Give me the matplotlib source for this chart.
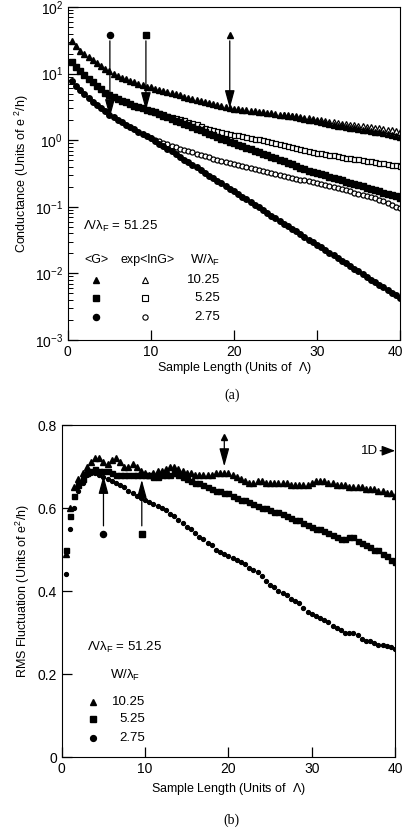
import numpy as np
import matplotlib
matplotlib.use("Agg")
import matplotlib.pyplot as plt
import matplotlib.transforms as mtransforms
from matplotlib.ticker import LogLocator, FixedLocator, NullFormatter

plt.rcParams['font.family'] = ['Liberation Sans', 'DejaVu Sans']
plt.rcParams['mathtext.fontset'] = 'custom'
plt.rcParams['mathtext.rm'] = 'Liberation Sans'
plt.rcParams['mathtext.it'] = 'Liberation Sans'
plt.rcParams['mathtext.sf'] = 'Liberation Sans'

# ---------------- data ----------------
L = np.arange(0.5, 40.01, 0.5)          # sample length grid (units of Lambda)

# (a) conductance, <G> (filled) and exp<lnG> (open)
g_tri = [31, 26, 22, 19.5, 17.5, 15.8, 14.3, 13, 11.8, 10.8, 10, 9.3, 8.7, 8.2, 7.8, 7.4,
         7.0, 6.7, 6.4, 6.2, 5.9, 5.7, 5.5, 5.3, 5.1, 4.9, 4.7, 4.5, 4.35, 4.2, 4.05, 3.9,
         3.75, 3.6, 3.48, 3.36, 3.25, 3.15, 3.05, 2.97, 2.92, 2.87, 2.82, 2.77, 2.72, 2.67,
         2.62, 2.58, 2.53, 2.48, 2.43, 2.38, 2.33, 2.28, 2.22, 2.16, 2.1, 2.04, 1.98, 1.92,
         1.86, 1.8, 1.75, 1.7, 1.65, 1.61, 1.57, 1.53, 1.5, 1.47, 1.44, 1.41, 1.38, 1.35,
         1.31, 1.27, 1.23, 1.19, 1.15, 1.12]
L_tri_open = np.arange(26, 40.01, 0.5)
g_tri_open = [2.42, 2.37, 2.33, 2.28, 2.23, 2.18, 2.13, 2.08, 2.03, 1.98, 1.94, 1.9, 1.86,
              1.82, 1.78, 1.75, 1.71, 1.68, 1.65, 1.62, 1.59, 1.56, 1.53, 1.5, 1.46, 1.43,
              1.4, 1.36, 1.33]

g_sq = [15, 12.5, 10.8, 9.5, 8.4, 7.4, 6.6, 5.9, 5.2, 4.7, 4.4, 4.1, 3.9, 3.7, 3.5, 3.3,
        3.15, 3.0, 2.88, 2.77, 2.62, 2.47, 2.34, 2.21, 2.09, 1.97, 1.87, 1.76, 1.67, 1.57,
        1.49, 1.41, 1.33, 1.26, 1.19, 1.12, 1.06, 1.0, 0.955, 0.905, 0.86, 0.815, 0.773,
        0.733, 0.695, 0.659, 0.625, 0.593, 0.562, 0.533, 0.506, 0.48, 0.455, 0.432, 0.41,
        0.388, 0.368, 0.35, 0.336, 0.322, 0.309, 0.296, 0.284, 0.272, 0.261, 0.25, 0.239,
        0.229, 0.22, 0.21, 0.202, 0.193, 0.185, 0.177, 0.17, 0.163, 0.156, 0.15, 0.144,
        0.137]
L_sq_open = np.arange(10, 40.01, 0.5)
g_sq_open = [2.77, 2.65, 2.54, 2.44, 2.34, 2.24, 2.15, 2.06, 1.98, 1.9, 1.82, 1.74, 1.62,
             1.55, 1.48, 1.42, 1.36, 1.31, 1.27, 1.24, 1.21, 1.18, 1.15, 1.12, 1.09, 1.06,
             1.03, 1.0, 0.97, 0.94, 0.91, 0.88, 0.85, 0.82, 0.79, 0.765, 0.74, 0.72, 0.69,
             0.67, 0.65, 0.635, 0.62, 0.605, 0.59, 0.575, 0.56, 0.55, 0.54, 0.53, 0.52,
             0.505, 0.49, 0.48, 0.47, 0.46, 0.45, 0.44, 0.43, 0.42, 0.41]

g_ci = [7.8, 6.5, 5.6, 4.9, 4.3, 3.8, 3.4, 3.0, 2.7, 2.4, 2.2, 2.0, 1.85, 1.7, 1.57, 1.45,
        1.35, 1.25, 1.15, 1.07, 0.98, 0.89, 0.81, 0.74, 0.68, 0.62, 0.56, 0.51, 0.47, 0.43,
        0.39, 0.355, 0.324, 0.295, 0.269, 0.245, 0.224, 0.204, 0.186, 0.17, 0.155, 0.141,
        0.129, 0.117, 0.107, 0.098, 0.089, 0.081, 0.074, 0.068, 0.062, 0.056, 0.051, 0.047,
        0.043, 0.039, 0.035, 0.032, 0.0295, 0.0269, 0.0245, 0.0224, 0.0204, 0.0186, 0.017,
        0.0155, 0.0141, 0.0129, 0.0117, 0.0107, 0.0098, 0.0089, 0.0081, 0.0074, 0.0068,
        0.0062, 0.0056, 0.0051, 0.0047, 0.0043]
L_ci_open = np.arange(10, 40.01, 0.5)
g_ci_open = [1.07, 1.01, 0.96, 0.91, 0.87, 0.83, 0.79, 0.75, 0.72, 0.69, 0.66, 0.63, 0.605,
             0.58, 0.555, 0.53, 0.51, 0.49, 0.47, 0.45, 0.435, 0.42, 0.405, 0.39, 0.38,
             0.365, 0.355, 0.345, 0.335, 0.325, 0.315, 0.305, 0.295, 0.285, 0.275, 0.265,
             0.257, 0.25, 0.243, 0.236, 0.228, 0.22, 0.212, 0.205, 0.198, 0.191, 0.184,
             0.177, 0.17, 0.164, 0.158, 0.152, 0.146, 0.14, 0.134, 0.128, 0.122, 0.115,
             0.108, 0.101, 0.095]

# (b) RMS fluctuation
rms_tri = [0.49, 0.60, 0.65, 0.67, 0.685, 0.70, 0.71, 0.72, 0.72, 0.71, 0.705, 0.715, 0.72,
           0.71, 0.70, 0.70, 0.705, 0.70, 0.69, 0.685, 0.68, 0.685, 0.69, 0.69, 0.695, 0.70,
           0.70, 0.695, 0.69, 0.685, 0.685, 0.68, 0.68, 0.68, 0.68, 0.68, 0.685, 0.685,
           0.685, 0.685, 0.68, 0.675, 0.67, 0.665, 0.66, 0.66, 0.665, 0.665, 0.66, 0.66,
           0.66, 0.66, 0.66, 0.66, 0.655, 0.655, 0.655, 0.655, 0.655, 0.66, 0.665, 0.665,
           0.665, 0.66, 0.66, 0.655, 0.655, 0.655, 0.65, 0.65, 0.65, 0.65, 0.645, 0.645,
           0.645, 0.64, 0.64, 0.635, 0.635, 0.63]
rms_sq = [0.50, 0.58, 0.63, 0.655, 0.67, 0.685, 0.69, 0.695, 0.69, 0.69, 0.69, 0.685, 0.68,
          0.68, 0.68, 0.68, 0.68, 0.68, 0.68, 0.68, 0.68, 0.675, 0.675, 0.68, 0.68, 0.68,
          0.685, 0.68, 0.675, 0.67, 0.665, 0.66, 0.66, 0.655, 0.65, 0.645, 0.64, 0.64,
          0.635, 0.635, 0.63, 0.625, 0.62, 0.62, 0.615, 0.61, 0.605, 0.60, 0.60, 0.595,
          0.59, 0.59, 0.585, 0.58, 0.575, 0.57, 0.57, 0.565, 0.56, 0.555, 0.55, 0.55, 0.545,
          0.54, 0.535, 0.53, 0.525, 0.525, 0.53, 0.53, 0.52, 0.515, 0.51, 0.505, 0.50, 0.50,
          0.49, 0.485, 0.475, 0.47]
rms_ci = [0.44, 0.55, 0.60, 0.64, 0.66, 0.68, 0.685, 0.685, 0.68, 0.675, 0.67, 0.665, 0.66,
          0.655, 0.65, 0.64, 0.635, 0.63, 0.625, 0.62, 0.615, 0.61, 0.605, 0.60, 0.595,
          0.585, 0.58, 0.57, 0.565, 0.555, 0.55, 0.54, 0.53, 0.525, 0.515, 0.51, 0.50, 0.495,
          0.49, 0.485, 0.48, 0.475, 0.47, 0.465, 0.455, 0.45, 0.445, 0.435, 0.425, 0.415,
          0.41, 0.40, 0.395, 0.39, 0.38, 0.375, 0.37, 0.36, 0.35, 0.345, 0.34, 0.335, 0.33,
          0.325, 0.315, 0.31, 0.305, 0.30, 0.30, 0.30, 0.295, 0.285, 0.28, 0.28, 0.275,
          0.27, 0.27, 0.268, 0.265, 0.26]

widths = ["10.25", "5.25", "2.75"]
ratio_text = "51.25"

# arrows (L position, tip value)
arrows_a = {"o": (5.06, 2.2), "s": (9.4, 2.8), "^": (19.5, 3.0)}
arrows_b = {"o": (5.0, 0.678), "s": (9.6, 0.668), "^": (19.5, 0.70)}
rms_1d = 0.738

# ---------------- figure ----------------
fig = plt.figure(figsize=(4.04, 8.34), dpi=100)
axa = fig.add_axes([0.168, 0.5923, 0.822, 0.3993])
axb = fig.add_axes([0.153, 0.0923, 0.825, 0.3981])

k = 'black'
ms_f = 4.0
ms_o = 3.6
# open first, filled on top
axa.plot(L_tri_open, g_tri_open, '^', ms=ms_o + 0.4, mfc='white', mec=k, mew=0.9, ls='none')
axa.plot(L_sq_open, g_sq_open, 's', ms=ms_o, mfc='white', mec=k, mew=0.9, ls='none')
axa.plot(L_ci_open, g_ci_open, 'o', ms=ms_o, mfc='white', mec=k, mew=0.9, ls='none')
axa.plot(L, g_tri, '^', ms=ms_f + 0.5, color=k, ls='none')
axa.plot(L, g_sq, 's', ms=ms_f, color=k, ls='none')
axa.plot(L, g_ci, 'o', ms=ms_f, color=k, ls='none')

axa.set_yscale('log')
axa.set_xlim(0, 40)
axa.set_ylim(1e-3, 1e2)
axa.set_xticks([0, 10, 20, 30, 40])
axa.yaxis.set_major_locator(LogLocator(base=10, numticks=10))
axa.yaxis.set_minor_locator(LogLocator(base=10, subs=np.arange(2, 10), numticks=10))
axa.yaxis.set_minor_formatter(NullFormatter())
axa.tick_params(axis='both', which='major', direction='in', length=7, width=0.9,
                labelsize=10, top=False, right=False)
axa.tick_params(axis='y', which='minor', direction='in', length=3.5, width=0.7, right=False)
axa.set_xlabel(r'Sample Length (Units of  $\Lambda$)', fontsize=9, labelpad=1)
axa.set_ylabel(r'Conductance (Units of e $^2$/h)', fontsize=9, labelpad=3)

# keep the "40" label inside the picture
fig.canvas.draw()
lab40 = axa.get_xticklabels()[-1]
lab40.set_transform(lab40.get_transform() +
                    mtransforms.ScaledTranslation(-5 / 100, 0, fig.dpi_scale_trans))

arrow_kw = dict(arrowstyle='-|>,head_length=1.1,head_width=0.3', color=k, lw=0.9,
                shrinkA=0, shrinkB=0)
for mk, (xa, tip) in arrows_a.items():
    axa.plot([xa], [38], mk, ms=4.4, color=k)
    axa.annotate('', xy=(xa, tip), xytext=(xa, 31), arrowprops=arrow_kw)

# legend (a)
ta = axa.transAxes
axa.text(0.045, 0.342, r'$\Lambda/\lambda_F$ = ' + ratio_text, transform=ta, fontsize=9.5,
         ha='left', va='center')
axa.text(0.087, 0.24, '<G>', transform=ta, fontsize=9, ha='center', va='center')
axa.text(0.24, 0.24, 'exp<lnG>', transform=ta, fontsize=9, ha='center', va='center')
axa.text(0.367, 0.24, r'W/$\lambda_F$', transform=ta, fontsize=9.5, ha='left', va='center')
rows_a = [0.18, 0.126, 0.069]
for mk, yy, w in zip(['^', 's', 'o'], rows_a, widths):
    axa.plot([0.084], [yy], mk, ms=4.4, color=k, transform=ta)
    axa.plot([0.232], [yy], mk, ms=3.8, mfc='white', mec=k, mew=0.8, transform=ta)
    axa.text(0.458, yy, w, transform=ta, fontsize=9.5, ha='right', va='center')

# ---------------- (b) ----------------
axb.plot(L, rms_ci, 'o', ms=2.8, color=k, ls='none')
axb.plot(L, rms_sq, 's', ms=3.6, color=k, ls='none')
axb.plot(L, rms_tri, '^', ms=4.8, color=k, ls='none')
axb.set_xlim(0, 40)
axb.set_ylim(0, 0.8)
axb.set_xticks([0, 10, 20, 30, 40])
axb.yaxis.set_major_locator(FixedLocator([0, 0.2, 0.4, 0.6, 0.8]))
axb.set_yticklabels(['0', '0.2', '0.4', '0.6', '0.8'])
axb.tick_params(axis='both', which='major', direction='in', length=7, width=0.9,
                labelsize=10, top=False, right=False)
axb.set_xlabel(r'Sample Length (Units of  $\Lambda$)', fontsize=9, labelpad=4)
axb.set_ylabel(r'RMS Fluctuation (Units of e$^2$/h)', fontsize=9, labelpad=4)

for mk, (xa, tip) in arrows_b.items():
    if mk == '^':
        axb.plot([xa], [0.772], mk, ms=4.4, color=k)
        axb.annotate('', xy=(xa, tip), xytext=(xa, 0.762), arrowprops=arrow_kw)
    else:
        axb.plot([xa], [0.537], mk, ms=4.4, color=k)
        axb.annotate('', xy=(xa, tip), xytext=(xa, 0.557), arrowprops=arrow_kw)

axb.annotate('', xy=(40, rms_1d), xytext=(38.2, rms_1d),
             arrowprops=dict(arrowstyle='-|>,head_length=0.8,head_width=0.3', color=k,
                             lw=0.9, shrinkA=0, shrinkB=0))
axb.text(38.0, rms_1d, '1D', fontsize=9.5, ha='right', va='center')

tb = axb.transAxes
axb.text(0.075, 0.33, r'$\Lambda/\lambda_F$ = ' + ratio_text, transform=tb, fontsize=9.5,
         ha='left', va='center')
axb.text(0.144, 0.246, r'W/$\lambda_F$', transform=tb, fontsize=9.5, ha='left', va='center')
rows_b = [0.166, 0.114, 0.057]
for mk, yy, w in zip(['^', 's', 'o'], rows_b, widths):
    axb.plot([0.093], [yy], mk, ms=4.2, color=k, transform=tb)
    axb.text(0.25, yy, w, transform=tb, fontsize=9.5, ha='right', va='center')

fig.text(0.574, 0.526, '(a)', fontsize=10, ha='center', va='center', family='Liberation Serif')
fig.text(0.574, 0.017, '(b)', fontsize=10, ha='center', va='center', family='Liberation Serif')

fig.savefig('out.png', dpi=100)
